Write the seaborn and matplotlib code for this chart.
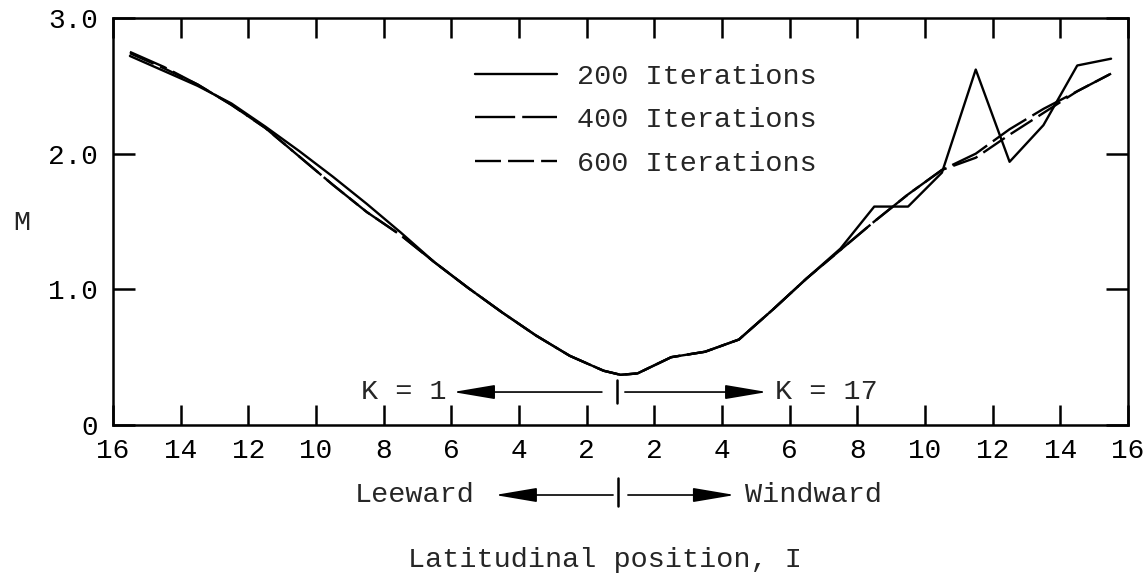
import numpy as np
import pandas as pd
import matplotlib
matplotlib.use("Agg")
import matplotlib.pyplot as plt
import seaborn as sns
from matplotlib.lines import Line2D

# ---------------- data (signed latitudinal position: leeward < 0 < windward) ----
positions = [-14.5, -13.5, -12.5, -11.5, -10.5, -9.5, -8.5, -7.5, -6.5, -5.5,
             -4.5, -3.5, -2.5, -1.5, -0.5, 0.0, 0.5, 1.5, 2.5, 3.5, 4.5, 5.5,
             6.5, 7.5, 8.5, 9.5, 10.5, 11.5, 12.5, 13.5, 14.5]
m_200 = [2.72, 2.61, 2.50, 2.37, 2.20, 2.02, 1.83, 1.63, 1.42, 1.20,
         1.01, 0.83, 0.66, 0.51, 0.40, 0.37, 0.38, 0.50, 0.54, 0.63, 0.85, 1.08,
         1.30, 1.61, 1.61, 1.86, 2.62, 1.94, 2.21, 2.65, 2.70]
m_400 = [2.75, 2.64, 2.51, 2.36, 2.19, 1.98, 1.77, 1.57, 1.40, 1.20,
         1.01, 0.83, 0.66, 0.51, 0.40, 0.37, 0.38, 0.50, 0.54, 0.63, 0.85, 1.08,
         1.29, 1.50, 1.70, 1.88, 2.00, 2.18, 2.33, 2.46, 2.59]
m_600 = [2.74, 2.63, 2.51, 2.36, 2.19, 1.98, 1.77, 1.57, 1.40, 1.20,
         1.01, 0.83, 0.66, 0.51, 0.40, 0.37, 0.38, 0.50, 0.54, 0.63, 0.85, 1.08,
         1.29, 1.50, 1.70, 1.88, 1.97, 2.14, 2.30, 2.46, 2.59]
series_labels = ["200 Iterations", "400 Iterations", "600 Iterations"]

xtick_pos = [-15, -13, -11, -9, -7, -5, -3, -1, 1, 3, 5, 7, 9, 11, 13, 15]
xtick_labels = ["16", "14", "12", "10", "8", "6", "4", "2",
                "2", "4", "6", "8", "10", "12", "14", "16"]
ytick_pos = [0, 1, 2, 3]
ytick_labels = ["0", "1.0", "2.0", "3.0"]

# ---------------- style ----------------
sns.set_style("ticks")
plt.rcParams["font.family"] = ["Liberation Mono", "DejaVu Sans Mono"]
FS = 20.5
TFS = 20

fig = plt.figure(figsize=(11.46, 5.81), dpi=100)
W, H = 1146, 581
ax = fig.add_axes([113 / W, (H - 425) / H, 1015 / W, 407 / H])

df = pd.concat([
    pd.DataFrame({"pos": positions, "M": vals, "series": lab})
    for vals, lab in zip([m_200, m_400, m_600], series_labels)
])

dash_map = {series_labels[0]: "", series_labels[1]: (17, 3), series_labels[2]: (11, 3)}
sns.lineplot(data=df, x="pos", y="M", hue="series", style="series",
             palette={l: "black" for l in series_labels}, dashes=dash_map,
             estimator=None, legend=False, lw=1.7, ax=ax)

ax.set_xlim(-15, 15)
ax.set_ylim(0, 3)
ax.set_xticks(xtick_pos)
ax.set_xticklabels(xtick_labels, fontsize=TFS)
ax.set_yticks(ytick_pos)
ax.set_yticklabels(ytick_labels, fontsize=TFS)
ax.tick_params(axis="x", direction="in", length=14.5, width=1.8, top=True,
               pad=9, colors="black")
ax.tick_params(axis="y", direction="in", length=16, width=1.8, right=True,
               pad=11, colors="black")
for sp in ax.spines.values():
    sp.set_visible(True)
    sp.set_linewidth(1.8)
    sp.set_color("black")

ax.set_xlabel("Latitudinal position, I", fontsize=FS)
ax.xaxis.set_label_coords(0.4847, -0.332)
ax.xaxis.label.set_va("center")
ax.set_ylabel("M", fontsize=FS, rotation=0)
ax.yaxis.set_label_coords(-0.0897, 0.496)
ax.yaxis.label.set_va("center")
ax.yaxis.label.set_ha("center")

# legend
handles = [
    Line2D([0], [0], color="black", lw=1.7),
    Line2D([0], [0], color="black", lw=1.7, dashes=(17, 3)),
    Line2D([0], [0], color="black", lw=1.7, dashes=(11, 3)),
]
ax.legend(handles, series_labels, loc="upper left", bbox_to_anchor=(0.357, 0.888),
          frameon=False, fontsize=FS, handlelength=2.88, handletextpad=0.7,
          labelspacing=0.62, borderpad=0, borderaxespad=0)

# K annotations (inside axes, data coords)
arrow_kw = dict(arrowstyle="-|>,head_length=1.3,head_width=0.22", color="black",
                lw=1.2, mutation_scale=20, shrinkA=0, shrinkB=0)
yk = 0.243
ax.annotate("", xy=(-4.95, yk), xytext=(-0.55, yk), arrowprops=arrow_kw)
ax.annotate("", xy=(4.33, yk), xytext=(0.13, yk), arrowprops=arrow_kw)
ax.plot([-0.1, -0.1], [0.16, 0.33], color="black", lw=1.8)
ax.text(-5.13, yk, "K = 1", ha="right", va="center", fontsize=FS)
ax.text(4.57, yk, "K = 17", ha="left", va="center", fontsize=FS)

# Leeward / Windward row below axis
tr = ax.get_xaxis_transform()
yl = -0.172
ax.annotate("", xy=(-3.71, yl), xytext=(-0.22, yl), xycoords=tr, textcoords=tr,
            arrowprops=arrow_kw, annotation_clip=False)
ax.annotate("", xy=(3.38, yl), xytext=(0.22, yl), xycoords=tr, textcoords=tr,
            arrowprops=arrow_kw, annotation_clip=False)
ax.plot([-0.07, -0.07], [-0.13, -0.2], color="black", lw=1.8, transform=tr,
        clip_on=False)
ax.text(-4.3, yl, "Leeward", ha="right", va="center", fontsize=FS, transform=tr)
ax.text(3.68, yl, "Windward", ha="left", va="center", fontsize=FS, transform=tr)

fig.savefig("out.png", dpi=100, facecolor="white")
